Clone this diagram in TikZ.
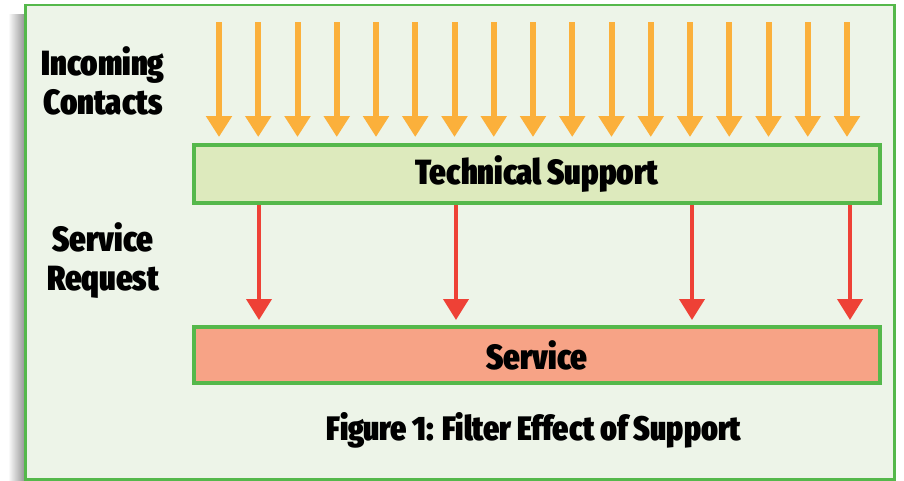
\documentclass[tikz,border=0pt]{standalone}
\usepackage{fontspec}
\IfFontExistsTF{Fira Sans Extra Condensed}
  {\setmainfont{Fira Sans Extra Condensed}[UprightFont=* Black,BoldFont=* Black]}
  {\setmainfont{Liberation Sans Narrow}[UprightFont=* Bold,BoldFont=* Bold]}
\usepackage{tikz}
\usetikzlibrary{arrows.meta,positioning,calc}
\definecolor{filtpanel}{HTML}{EDF4E8}
\definecolor{filtgreen}{HTML}{55B84B}
\definecolor{filttech}{HTML}{DDEABD}
\definecolor{filtsvc}{HTML}{F7A386}
\definecolor{filtorange}{HTML}{FBB03B}
\definecolor{filtred}{HTML}{EE4136}

\begin{document}
\begin{tikzpicture}[x=1pt,y=-1pt,
  font=\fontsize{35}{40}\selectfont,
  box/.style={draw=filtgreen,line width=4pt,minimum width=686pt,inner sep=0pt},
  lbl/.style={align=center,text=black,font=\fontsize{35}{39}\selectfont},
  inarr/.style={-{Triangle[width=25pt,length=21pt]},filtorange,line width=6pt,shorten >=6pt},
  reqarr/.style={-{Triangle[width=25pt,length=21pt]},filtred,line width=4pt,shorten >=5pt}]
  \useasboundingbox (0,0) rectangle (904,480);
  % panel with shadow
  \shade[left color=white,right color=black!45] (8,14) rectangle (26,480);
  \draw[filtgreen,line width=2.5pt,fill=filtpanel] (25.5,5) rectangle (894.5,479.5);
  % boxes
  \node[box,fill=filttech,minimum height=58pt] (tech) at (537,174) {Technical Support};
  \node[box,fill=filtsvc,minimum height=56pt] (svc) at (537,355) {Service};
  % labels
  \node[lbl] (inc) at (103,81) {Incoming\\Contacts};
  \node[lbl] (req) at (103,261) {Service\\Request};
  \node[font=\fontsize{34}{40}\selectfont] (cap) at (534,430) {Figure 1: Filter Effect of Support};
  % incoming contacts
  \foreach \i in {0,...,16}{
    \coordinate (in\i) at ({219+39.25*\i},22);
    \draw[inarr] (in\i) -- (in\i |- tech.north);
  }
  % service requests
  \foreach \x in {259,456,692,850}
    \draw[reqarr] (tech.south -| \x,0) -- (svc.north -| \x,0);
\end{tikzpicture}
\end{document}
